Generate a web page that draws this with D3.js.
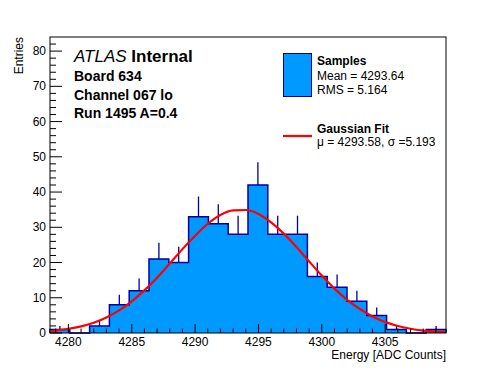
<!DOCTYPE html>
<html>
<head>
<meta charset="utf-8">
<script src="https://cdn.jsdelivr.net/npm/d3@7"></script>
<style>
  body { margin: 0; background: #fff; }
  text { font-family: 'Liberation Sans', Arial, sans-serif; }
</style>
</head>
<body>
<div id="chart"></div>
<script>
'use strict';

// histogram: 20 bins between xMin and xMax
const xMin = 4278.55;
const xMax = 4309.8;
const counts = [1, 0, 2, 8, 12, 21, 20, 33, 31, 28, 42, 28, 28, 16, 13, 9, 5, 1, 0, 1];

// gaussian fit curve
const fitX = [4278.55, 4279, 4280, 4281, 4282, 4283, 4284, 4285, 4286, 4287, 4288, 4289, 4290,
  4291, 4292, 4293, 4294, 4295, 4296, 4297, 4298, 4299, 4300, 4301, 4302, 4303, 4304, 4305,
  4306, 4307, 4308, 4309, 4309.8];
const fitY = [0.5, 0.7, 1.2, 1.9, 2.9, 4.4, 6.4, 9.0, 12.1, 15.7, 19.7, 23.8, 27.6,
  31.0, 33.5, 34.8, 34.9, 33.8, 31.4, 28.2, 24.4, 20.3, 16.3, 12.6, 9.4, 6.8, 4.7, 3.1,
  2.0, 1.2, 0.7, 0.4, 0.3];

const xTicks = [4280, 4285, 4290, 4295, 4300, 4305];
const yTicks = [0, 10, 20, 30, 40, 50, 60, 70, 80];

const infoLines = ['Board 634', 'Channel 067 lo', 'Run 1495 A=0.4'];
const legendLines = ['Samples', 'Mean = 4293.64', 'RMS = 5.164', 'Gaussian Fit', 'μ = 4293.58, σ =5.193'];

const width = 496;
const height = 372;
const frame = { left: 50, right: 446, top: 37, bottom: 333 };

const fillColor = '#0099ff';
const lineColor = '#000099';

const svg = d3.select('#chart')
  .append('svg')
  .attr('width', width)
  .attr('height', height);

svg.append('rect')
  .attr('width', width)
  .attr('height', height)
  .attr('fill', '#fff');

const x = d3.scaleLinear().domain([xMin, xMax]).range([frame.left, frame.right]);
const y = d3.scaleLinear().domain([0, 84]).range([frame.bottom, frame.top]);

const binW = (xMax - xMin) / counts.length;
const bins = counts.map((c, i) => ({ x0: xMin + i * binW, x1: xMin + (i + 1) * binW, c }));

// filled step histogram with outline
const steps = [[xMin, 0]];
bins.forEach((d) => { steps.push([d.x0, d.c], [d.x1, d.c]); });
steps.push([xMax, 0]);
svg.append('path')
  .datum(steps)
  .attr('d', d3.line().x((d) => x(d[0])).y((d) => y(d[1])))
  .attr('fill', fillColor)
  .attr('stroke', lineColor)
  .attr('stroke-width', 1.5);

// error bars (upper half only, lower half hidden by the fill)
svg.append('g')
  .selectAll('line')
  .data(bins.filter((d) => d.c > 0))
  .join('line')
  .attr('x1', (d) => x((d.x0 + d.x1) / 2))
  .attr('x2', (d) => x((d.x0 + d.x1) / 2))
  .attr('y1', (d) => y(d.c))
  .attr('y2', (d) => y(d.c + Math.sqrt(d.c)))
  .attr('stroke', lineColor)
  .attr('stroke-width', 1.3);

// fit curve
svg.append('path')
  .datum(fitX.map((v, i) => [v, fitY[i]]))
  .attr('d', d3.line().x((d) => x(d[0])).y((d) => y(d[1])).curve(d3.curveMonotoneX))
  .attr('fill', 'none')
  .attr('stroke', '#ff0000')
  .attr('stroke-width', 2.2);

// frame
svg.append('rect')
  .attr('x', frame.left)
  .attr('y', frame.top)
  .attr('width', frame.right - frame.left)
  .attr('height', frame.bottom - frame.top)
  .attr('fill', 'none')
  .attr('stroke', '#000')
  .attr('stroke-width', 1);

// x axis ticks (inside)
const xMinor = d3.range(4279, 4310, 1).filter((v) => !xTicks.includes(v));
const gx = svg.append('g');
gx.selectAll('line.major')
  .data(xTicks)
  .join('line')
  .attr('class', 'major')
  .attr('x1', (d) => x(d)).attr('x2', (d) => x(d))
  .attr('y1', frame.bottom).attr('y2', frame.bottom - 9)
  .attr('stroke', '#000');
gx.selectAll('line.minor')
  .data(xMinor)
  .join('line')
  .attr('class', 'minor')
  .attr('x1', (d) => x(d)).attr('x2', (d) => x(d))
  .attr('y1', frame.bottom).attr('y2', frame.bottom - 4.5)
  .attr('stroke', '#000');
gx.selectAll('text')
  .data(xTicks)
  .join('text')
  .attr('x', (d) => x(d))
  .attr('y', 346)
  .attr('text-anchor', 'middle')
  .attr('font-size', 12)
  .text((d) => d);

// y axis ticks (inside)
const yMinor = d3.range(2, 84, 2).filter((v) => !yTicks.includes(v));
const gy = svg.append('g');
gy.selectAll('line.major')
  .data(yTicks)
  .join('line')
  .attr('class', 'major')
  .attr('x1', frame.left).attr('x2', frame.left + 12)
  .attr('y1', (d) => y(d)).attr('y2', (d) => y(d))
  .attr('stroke', '#000');
gy.selectAll('line.minor')
  .data(yMinor)
  .join('line')
  .attr('class', 'minor')
  .attr('x1', frame.left).attr('x2', frame.left + 6)
  .attr('y1', (d) => y(d)).attr('y2', (d) => y(d))
  .attr('stroke', '#000');
gy.selectAll('text')
  .data(yTicks)
  .join('text')
  .attr('x', 46)
  .attr('y', (d) => y(d) + 4)
  .attr('text-anchor', 'end')
  .attr('font-size', 12)
  .text((d) => d);

// axis titles
svg.append('text')
  .attr('x', frame.right)
  .attr('y', 359)
  .attr('text-anchor', 'end')
  .attr('font-size', 12)
  .text('Energy [ADC Counts]');

svg.append('text')
  .attr('transform', `translate(23, ${frame.top}) rotate(-90)`)
  .attr('text-anchor', 'end')
  .attr('font-size', 12)
  .text('Entries');

// ATLAS label
const atlas = svg.append('text')
  .attr('x', 74)
  .attr('y', 62)
  .attr('font-size', 17);
atlas.append('tspan').attr('font-style', 'italic').text('ATLAS');
atlas.append('tspan').attr('font-weight', 'bold').text(' Internal');

svg.append('g')
  .selectAll('text')
  .data(infoLines)
  .join('text')
  .attr('x', 74)
  .attr('y', (d, i) => 81 + i * 18.7)
  .attr('font-size', 14)
  .attr('font-weight', 'bold')
  .text((d) => d);

// legend
svg.append('rect')
  .attr('x', 283.5)
  .attr('y', 53.5)
  .attr('width', 28)
  .attr('height', 43)
  .attr('fill', fillColor)
  .attr('stroke', lineColor)
  .attr('stroke-width', 1);

svg.append('line')
  .attr('x1', 283).attr('x2', 312)
  .attr('y1', 136).attr('y2', 136)
  .attr('stroke', '#ff0000')
  .attr('stroke-width', 2.2);

const legendY = [65, 80, 93.5, 132.5, 145.5];
svg.append('g')
  .selectAll('text')
  .data(legendLines)
  .join('text')
  .attr('x', 317)
  .attr('y', (d, i) => legendY[i])
  .attr('font-size', 12)
  .attr('font-weight', (d, i) => (i === 0 || i === 3) ? 'bold' : 'normal')
  .text((d) => d);
</script>
</body>
</html>
